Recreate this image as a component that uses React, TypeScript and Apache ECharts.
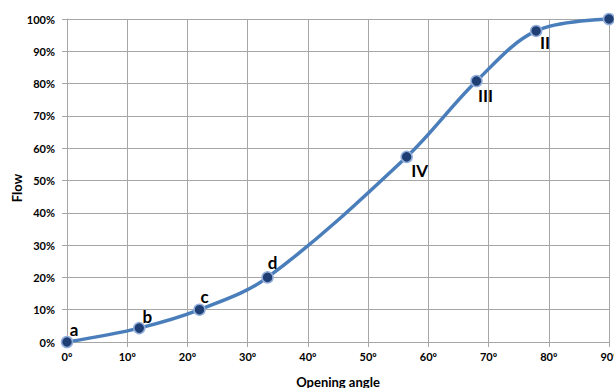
import React, { useEffect, useRef } from "react";
import * as echarts from "echarts";

const angles = [0, 12, 22, 33.3, 56.4, 68, 77.9, 90];
const flows = [0, 4.3, 10, 20, 57.3, 80.8, 96.3, 100];
const pointLabels = ["a", "b", "c", "d", "IV", "III", "II", ""];
const labelOffsets: [number, number][] = [
  [7, -13], [8, -12], [5, -13], [5, -15], [13, 14], [9, 14], [9, 12], [0, 0],
];
const xTicks = [0, 10, 20, 30, 40, 50, 60, 70, 80, 90];

export default function App() {
  const ref = useRef<HTMLDivElement>(null);
  useEffect(() => {
    document.body.style.margin = "0";
    const chart = echarts.init(ref.current!, null, { renderer: "svg" });
    const font = "Lato";
    const gray = "#A6A6A6";
    chart.setOption({
      animation: false,
      backgroundColor: "#ffffff",
      grid: { left: 67, right: 5, top: 19, bottom: 46, containLabel: false, outerBoundsMode: "none" },
      xAxis: {
        type: "value",
        min: 0,
        max: 90,
        interval: 10,
        name: "Opening angle",
        nameLocation: "middle",
        nameGap: 33,
        nameTextStyle: { fontFamily: font, fontWeight: "bold", fontSize: 13, color: "#000" },
        axisLine: { show: true, lineStyle: { color: gray, width: 1 } },
        axisTick: { show: true, length: 5, lineStyle: { color: gray } },
        splitLine: { show: true, lineStyle: { color: gray, width: 1 } },
        axisLabel: {
          margin: 9,
          fontFamily: font,
          fontWeight: "bold",
          fontSize: 11,
          color: "#000",
          formatter: (v: number) => (xTicks.includes(v) ? `${v}º` : ""),
        },
      },
      yAxis: {
        type: "value",
        min: 0,
        max: 100,
        interval: 10,
        axisLine: { show: true, lineStyle: { color: gray, width: 1 } },
        axisTick: { show: true, length: 5, lineStyle: { color: gray } },
        splitLine: { show: true, lineStyle: { color: gray, width: 1 } },
        axisLabel: {
          margin: 12,
          fontFamily: font,
          fontWeight: "bold",
          fontSize: 11,
          color: "#000",
          formatter: (v: number) => `${v}%`,
        },
      },
      graphic: [
        {
          type: "text",
          x: 17,
          y: 188,
          rotation: Math.PI / 2,
          style: {
            text: "Flow",
            align: "center",
            verticalAlign: "middle",
            font: `bold 13px ${font}`,
            fill: "#000",
          },
        },
      ],
      series: [
        {
          type: "line",
          smooth: 0.35,
          data: angles.map((a, i) => ({
            value: [a, flows[i]],
            label: {
              show: pointLabels[i] !== "",
              formatter: pointLabels[i],
              position: "inside",
              offset: labelOffsets[i],
            },
          })),
          lineStyle: { color: "#4A7EBB", width: 3.5 },
          symbol: "circle",
          symbolSize: 11,
          itemStyle: { color: "#1F3F74", borderColor: "#93AEDA", borderWidth: 1.5 },
          label: {
            fontFamily: font,
            fontWeight: "bold",
            fontSize: 17,
            color: "#000",
          },
          clip: false,
          z: 3,
        },
      ],
    });
    return () => chart.dispose();
  }, []);
  return <div ref={ref} style={{ width: 614, height: 388 }} />;
}
